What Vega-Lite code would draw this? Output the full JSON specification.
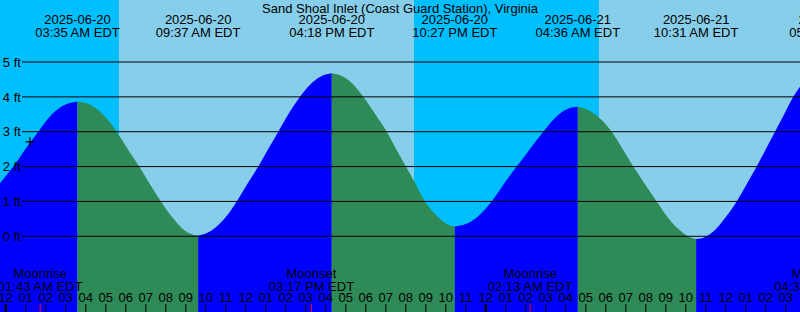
{
  "$schema": "https://vega.github.io/schema/vega-lite/v6.json",
  "width": 800,
  "height": 312,
  "padding": 0,
  "autosize": {"type": "none"},
  "background": "#87CEEB",
  "config": {
    "view": {"stroke": null},
    "axis": {"disable": true},
    "text": {"font": "Liberation Sans", "fontSize": 13, "color": "#000000"}
  },
  "datasets": {
    "bg": [
      {"s": -0.29, "e": 5.66, "k": "night"},
      {"s": 5.66, "e": 20.41, "k": "day"},
      {"s": 20.41, "e": 29.66, "k": "night"},
      {"s": 29.66, "e": 39.71, "k": "day"}
    ],
    "tide": [
      {"h": -0.29, "ft": 1.52, "seg": 0, "dir": "rise"},
      {"h": 0.0, "ft": 1.73, "seg": 0, "dir": "rise"},
      {"h": 0.375, "ft": 2.0, "seg": 0, "dir": "rise"},
      {"h": 1.0, "ft": 2.52, "seg": 0, "dir": "rise"},
      {"h": 1.625, "ft": 3.0, "seg": 0, "dir": "rise"},
      {"h": 2.085, "ft": 3.36, "seg": 0, "dir": "rise"},
      {"h": 2.585, "ft": 3.64, "seg": 0, "dir": "rise"},
      {"h": 3.085, "ft": 3.8, "seg": 0, "dir": "rise"},
      {"h": 3.583, "ft": 3.86, "seg": 0, "dir": "rise"},
      {"h": 3.583, "ft": 3.86, "seg": 1, "dir": "fall"},
      {"h": 4.083, "ft": 3.81, "seg": 1, "dir": "fall"},
      {"h": 4.583, "ft": 3.64, "seg": 1, "dir": "fall"},
      {"h": 5.083, "ft": 3.36, "seg": 1, "dir": "fall"},
      {"h": 5.545, "ft": 3.0, "seg": 1, "dir": "fall"},
      {"h": 6.1, "ft": 2.5, "seg": 1, "dir": "fall"},
      {"h": 6.675, "ft": 2.0, "seg": 1, "dir": "fall"},
      {"h": 7.2, "ft": 1.5, "seg": 1, "dir": "fall"},
      {"h": 7.76, "ft": 1.0, "seg": 1, "dir": "fall"},
      {"h": 8.3, "ft": 0.56, "seg": 1, "dir": "fall"},
      {"h": 8.8, "ft": 0.24, "seg": 1, "dir": "fall"},
      {"h": 9.2, "ft": 0.08, "seg": 1, "dir": "fall"},
      {"h": 9.617, "ft": 0.02, "seg": 1, "dir": "fall"},
      {"h": 9.617, "ft": 0.02, "seg": 2, "dir": "rise"},
      {"h": 10.0, "ft": 0.08, "seg": 2, "dir": "rise"},
      {"h": 10.5, "ft": 0.26, "seg": 2, "dir": "rise"},
      {"h": 11.0, "ft": 0.55, "seg": 2, "dir": "rise"},
      {"h": 11.545, "ft": 1.0, "seg": 2, "dir": "rise"},
      {"h": 12.1, "ft": 1.52, "seg": 2, "dir": "rise"},
      {"h": 12.625, "ft": 2.0, "seg": 2, "dir": "rise"},
      {"h": 13.1, "ft": 2.48, "seg": 2, "dir": "rise"},
      {"h": 13.625, "ft": 3.0, "seg": 2, "dir": "rise"},
      {"h": 14.15, "ft": 3.52, "seg": 2, "dir": "rise"},
      {"h": 14.71, "ft": 4.0, "seg": 2, "dir": "rise"},
      {"h": 15.2, "ft": 4.34, "seg": 2, "dir": "rise"},
      {"h": 15.7, "ft": 4.57, "seg": 2, "dir": "rise"},
      {"h": 16.3, "ft": 4.68, "seg": 2, "dir": "rise"},
      {"h": 16.3, "ft": 4.68, "seg": 3, "dir": "fall"},
      {"h": 16.8, "ft": 4.6, "seg": 3, "dir": "fall"},
      {"h": 17.3, "ft": 4.4, "seg": 3, "dir": "fall"},
      {"h": 17.875, "ft": 4.0, "seg": 3, "dir": "fall"},
      {"h": 18.45, "ft": 3.52, "seg": 3, "dir": "fall"},
      {"h": 19.045, "ft": 3.0, "seg": 3, "dir": "fall"},
      {"h": 19.71, "ft": 2.3, "seg": 3, "dir": "fall"},
      {"h": 20.375, "ft": 1.62, "seg": 3, "dir": "fall"},
      {"h": 20.96, "ft": 1.0, "seg": 3, "dir": "fall"},
      {"h": 21.4, "ft": 0.68, "seg": 3, "dir": "fall"},
      {"h": 21.9, "ft": 0.41, "seg": 3, "dir": "fall"},
      {"h": 22.2, "ft": 0.31, "seg": 3, "dir": "fall"},
      {"h": 22.45, "ft": 0.28, "seg": 3, "dir": "fall"},
      {"h": 22.45, "ft": 0.28, "seg": 4, "dir": "rise"},
      {"h": 23.0, "ft": 0.35, "seg": 4, "dir": "rise"},
      {"h": 23.5, "ft": 0.52, "seg": 4, "dir": "rise"},
      {"h": 24.0, "ft": 0.8, "seg": 4, "dir": "rise"},
      {"h": 24.295, "ft": 1.0, "seg": 4, "dir": "rise"},
      {"h": 24.9, "ft": 1.5, "seg": 4, "dir": "rise"},
      {"h": 25.545, "ft": 2.0, "seg": 4, "dir": "rise"},
      {"h": 26.2, "ft": 2.5, "seg": 4, "dir": "rise"},
      {"h": 26.875, "ft": 3.0, "seg": 4, "dir": "rise"},
      {"h": 27.4, "ft": 3.36, "seg": 4, "dir": "rise"},
      {"h": 27.9, "ft": 3.6, "seg": 4, "dir": "rise"},
      {"h": 28.2, "ft": 3.68, "seg": 4, "dir": "rise"},
      {"h": 28.6, "ft": 3.72, "seg": 4, "dir": "rise"},
      {"h": 28.6, "ft": 3.72, "seg": 5, "dir": "fall"},
      {"h": 29.1, "ft": 3.63, "seg": 5, "dir": "fall"},
      {"h": 29.71, "ft": 3.38, "seg": 5, "dir": "fall"},
      {"h": 30.295, "ft": 3.0, "seg": 5, "dir": "fall"},
      {"h": 30.85, "ft": 2.5, "seg": 5, "dir": "fall"},
      {"h": 31.375, "ft": 2.0, "seg": 5, "dir": "fall"},
      {"h": 31.95, "ft": 1.5, "seg": 5, "dir": "fall"},
      {"h": 32.545, "ft": 1.0, "seg": 5, "dir": "fall"},
      {"h": 33.1, "ft": 0.54, "seg": 5, "dir": "fall"},
      {"h": 33.6, "ft": 0.22, "seg": 5, "dir": "fall"},
      {"h": 34.0, "ft": 0.04, "seg": 5, "dir": "fall"},
      {"h": 34.517, "ft": -0.08, "seg": 5, "dir": "fall"},
      {"h": 34.517, "ft": -0.08, "seg": 6, "dir": "rise"},
      {"h": 35.0, "ft": -0.01, "seg": 6, "dir": "rise"},
      {"h": 35.5, "ft": 0.2, "seg": 6, "dir": "rise"},
      {"h": 36.0, "ft": 0.55, "seg": 6, "dir": "rise"},
      {"h": 36.545, "ft": 1.0, "seg": 6, "dir": "rise"},
      {"h": 37.05, "ft": 1.5, "seg": 6, "dir": "rise"},
      {"h": 37.545, "ft": 2.0, "seg": 6, "dir": "rise"},
      {"h": 38.0, "ft": 2.5, "seg": 6, "dir": "rise"},
      {"h": 38.46, "ft": 3.0, "seg": 6, "dir": "rise"},
      {"h": 38.92, "ft": 3.5, "seg": 6, "dir": "rise"},
      {"h": 39.375, "ft": 4.0, "seg": 6, "dir": "rise"},
      {"h": 39.71, "ft": 4.29, "seg": 6, "dir": "rise"}
    ],
    "grid": [
      {"v": 0, "lab": "0 ft"},
      {"v": 1, "lab": "1 ft"},
      {"v": 2, "lab": "2 ft"},
      {"v": 3, "lab": "3 ft"},
      {"v": 4, "lab": "4 ft"},
      {"v": 5, "lab": "5 ft"}
    ],
    "tides": [
      {"h": 3.583, "date": "2025-06-20", "time": "03:35 AM EDT"},
      {"h": 9.617, "date": "2025-06-20", "time": "09:37 AM EDT"},
      {"h": 16.3, "date": "2025-06-20", "time": "04:18 PM EDT"},
      {"h": 22.45, "date": "2025-06-20", "time": "10:27 PM EDT"},
      {"h": 28.6, "date": "2025-06-21", "time": "04:36 AM EDT"},
      {"h": 34.517, "date": "2025-06-21", "time": "10:31 AM EDT"},
      {"h": 41.3, "date": "2025-06-21", "time": "05:18 PM EDT"}
    ],
    "moon": [
      {"h": 1.717, "name": "Moonrise", "time": "01:43 AM EDT"},
      {"h": 15.283, "name": "Moonset", "time": "03:17 PM EDT"},
      {"h": 26.217, "name": "Moonrise", "time": "02:13 AM EDT"},
      {"h": 40.55, "name": "Moonset", "time": "04:35 PM EDT"}
    ],
    "hours": [
      {"h": 0, "lab": "12"}, {"h": 1, "lab": "01"}, {"h": 2, "lab": "02"}, {"h": 3, "lab": "03"},
      {"h": 4, "lab": "04"}, {"h": 5, "lab": "05"}, {"h": 6, "lab": "06"}, {"h": 7, "lab": "07"},
      {"h": 8, "lab": "08"}, {"h": 9, "lab": "09"}, {"h": 10, "lab": "10"}, {"h": 11, "lab": "11"},
      {"h": 12, "lab": "12"}, {"h": 13, "lab": "01"}, {"h": 14, "lab": "02"}, {"h": 15, "lab": "03"},
      {"h": 16, "lab": "04"}, {"h": 17, "lab": "05"}, {"h": 18, "lab": "06"}, {"h": 19, "lab": "07"},
      {"h": 20, "lab": "08"}, {"h": 21, "lab": "09"}, {"h": 22, "lab": "10"}, {"h": 23, "lab": "11"},
      {"h": 24, "lab": "12"}, {"h": 25, "lab": "01"}, {"h": 26, "lab": "02"}, {"h": 27, "lab": "03"},
      {"h": 28, "lab": "04"}, {"h": 29, "lab": "05"}, {"h": 30, "lab": "06"}, {"h": 31, "lab": "07"},
      {"h": 32, "lab": "08"}, {"h": 33, "lab": "09"}, {"h": 34, "lab": "10"}, {"h": 35, "lab": "11"},
      {"h": 36, "lab": "12"}, {"h": 37, "lab": "01"}, {"h": 38, "lab": "02"}, {"h": 39, "lab": "03"}
    ],
    "now": [{"h": 1.21, "ft": 2.71}],
    "title": [{"t": "Sand Shoal Inlet (Coast Guard Station), Virginia"}]
  },
  "layer": [
    {
      "data": {"name": "bg"},
      "mark": {"type": "rect"},
      "encoding": {
        "x": {"field": "s", "type": "quantitative", "axis": null, "scale": {"domain": [-0.29, 39.71], "nice": false, "zero": false}},
        "x2": {"field": "e"},
        "y": {"datum": 6.779, "type": "quantitative", "axis": null, "scale": {"domain": [-2.172, 6.779], "nice": false, "zero": false}},
        "y2": {"datum": -2.172},
        "fill": {"field": "k", "type": "nominal", "legend": null, "scale": {"domain": ["night", "day"], "range": ["#00BFFF", "#87CEEB"]}}
      }
    },
    {
      "data": {"name": "tide"},
      "mark": {"type": "area", "interpolate": "monotone", "clip": true},
      "encoding": {
        "x": {"field": "h", "type": "quantitative"},
        "y": {"field": "ft", "type": "quantitative", "stack": null},
        "y2": {"datum": -2.172},
        "color": {"field": "dir", "type": "nominal", "legend": null, "scale": {"domain": ["rise", "fall"], "range": ["#0000FF", "#2E8B57"]}},
        "detail": {"field": "seg", "type": "nominal"}
      }
    },
    {
      "data": {"name": "grid"},
      "mark": {"type": "rule", "color": "#000000", "strokeWidth": 1},
      "encoding": {
        "x": {"datum": 0.81, "type": "quantitative"},
        "x2": {"datum": 39.71},
        "y": {"field": "v", "type": "quantitative"}
      }
    },
    {
      "data": {"name": "grid"},
      "mark": {"type": "text", "align": "left", "baseline": "alphabetic", "dy": 4.7},
      "encoding": {
        "x": {"datum": -0.15, "type": "quantitative"},
        "y": {"field": "v", "type": "quantitative"},
        "text": {"field": "lab"}
      }
    },
    {
      "data": {"name": "title"},
      "mark": {"type": "text", "align": "center", "baseline": "alphabetic"},
      "encoding": {
        "x": {"datum": 19.71, "type": "quantitative"},
        "y": {"datum": 6.414, "type": "quantitative"},
        "text": {"field": "t"}
      }
    },
    {
      "data": {"name": "tides"},
      "mark": {"type": "text", "align": "center", "baseline": "alphabetic"},
      "encoding": {
        "x": {"field": "h", "type": "quantitative"},
        "y": {"datum": 6.09, "type": "quantitative"},
        "text": {"field": "date"}
      }
    },
    {
      "data": {"name": "tides"},
      "mark": {"type": "text", "align": "center", "baseline": "alphabetic"},
      "encoding": {
        "x": {"field": "h", "type": "quantitative"},
        "y": {"datum": 5.726, "type": "quantitative"},
        "text": {"field": "time"}
      }
    },
    {
      "data": {"name": "hours"},
      "mark": {"type": "rule", "color": "#000000", "strokeWidth": 1},
      "encoding": {
        "x": {"field": "h", "type": "quantitative"},
        "y": {"datum": -1.942, "type": "quantitative"},
        "y2": {"datum": -2.172}
      }
    },
    {
      "data": {"name": "hours"},
      "transform": [{"filter": "datum.h % 24 === 0"}],
      "mark": {"type": "rule", "color": "#000000", "strokeWidth": 2.5},
      "encoding": {
        "x": {"field": "h", "type": "quantitative"},
        "y": {"datum": -1.942, "type": "quantitative"},
        "y2": {"datum": -2.172}
      }
    },
    {
      "data": {"name": "hours"},
      "mark": {"type": "text", "align": "center", "baseline": "alphabetic"},
      "encoding": {
        "x": {"field": "h", "type": "quantitative"},
        "y": {"datum": -1.893, "type": "quantitative"},
        "text": {"field": "lab"}
      }
    },
    {
      "data": {"name": "moon"},
      "mark": {"type": "rule", "color": "#FF0000", "strokeWidth": 1},
      "encoding": {
        "x": {"field": "h", "type": "quantitative"},
        "y": {"datum": -1.942, "type": "quantitative"},
        "y2": {"datum": -2.172}
      }
    },
    {
      "data": {"name": "moon"},
      "mark": {"type": "text", "align": "center", "baseline": "alphabetic"},
      "encoding": {
        "x": {"field": "h", "type": "quantitative"},
        "y": {"datum": -1.205, "type": "quantitative"},
        "text": {"field": "name"}
      }
    },
    {
      "data": {"name": "moon"},
      "mark": {"type": "text", "align": "center", "baseline": "alphabetic"},
      "encoding": {
        "x": {"field": "h", "type": "quantitative"},
        "y": {"datum": -1.561, "type": "quantitative"},
        "text": {"field": "time"}
      }
    },
    {
      "data": {"name": "now"},
      "mark": {"type": "point", "shape": "M-1,0H1M0,-1V1", "size": 81, "filled": false, "stroke": "#000000", "strokeWidth": 1.2, "opacity": 1},
      "encoding": {
        "x": {"field": "h", "type": "quantitative"},
        "y": {"field": "ft", "type": "quantitative"}
      }
    }
  ]
}
